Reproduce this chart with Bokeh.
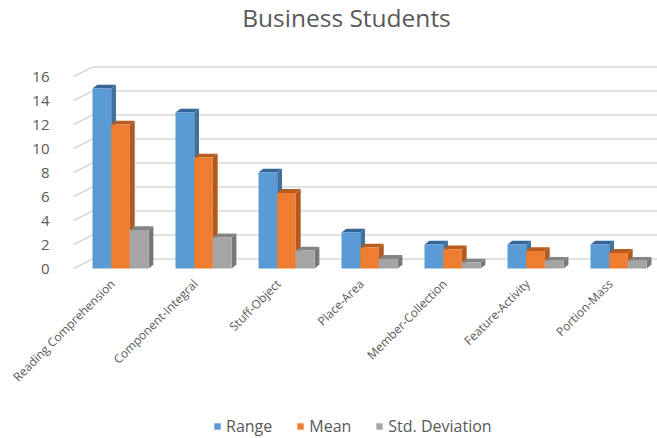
import math
from bokeh.plotting import figure
from bokeh.models import Range1d, FixedTicker, Legend, LegendItem, LinearAxis, Label
from bokeh.embed import file_html
from bokeh.resources import INLINE

# ---------------- data ----------------
categories = ["Reading Comprehension", "Component-Integral", "Stuff-Object",
              "Place-Area", "Member-Collection", "Feature-Activity", "Portion-Mass"]
series_names = ["Range", "Mean", "Std. Deviation"]
range_vals = [15, 13, 8, 3, 2, 2, 2]
mean_vals = [12, 9.25, 6.3, 1.75, 1.6, 1.45, 1.3]
std_vals = [3.2, 2.6, 1.5, 0.8, 0.5, 0.65, 0.65]
y_ticks = [0, 2, 4, 6, 8, 10, 12, 14, 16]
title_text = "Business Students"

# ---------------- styles ----------------
FONT = "Open Sans"
TXT = "#595959"
FRONT = ["#5B9BD5", "#ED7D31", "#A5A5A5"]
SIDE = ["#41719C", "#AE5A21", "#787878"]
TOP = ["#35659A", "#B85D1F", "#848484"]
GRID = "#D9D9D9"

W, H = 657, 438
PX_X, PX_Y = 83.0, 12.0            # pixels per data unit
X0 = -120.0 / PX_X                 # first category centre 120px from the left
X1 = X0 + W / PX_X
Y0 = -170.0 / PX_Y                 # value 0 lies 170px above the bottom
Y1 = Y0 + H / PX_Y
ux, uy = 1.0 / PX_X, 1.0 / PX_Y

BAR_W = 18.7 * ux
GROUP_L = -28.0 * ux
DEP_X, DEP_Y = 4.8 * ux, 3.8 * uy      # bar depth
WALL_X, WALL_Y = 19.0 * ux, 9.5 * uy   # back wall offset
WALL_LEFT = -47.0 * ux
YAXIS_AT = -58.0 * ux
LABEL_SHIFT = 8.0 * ux

p = figure(frame_width=W, frame_height=H,
           x_range=Range1d(X0, X1), y_range=Range1d(Y0, Y1),
           x_axis_type=None, y_axis_type=None,
           output_backend="svg", toolbar_location=None,
           min_border=0)
p.extra_x_ranges = {"labels": Range1d(X0 + LABEL_SHIFT, X1 + LABEL_SHIFT)}
p.outline_line_color = None
p.background_fill_color = "white"
p.border_fill_color = "white"

p.add_layout(Label(x=346, y=421, x_units="screen", y_units="screen",
                   text=title_text, text_align="center", text_baseline="alphabetic",
                   text_font=FONT, text_font_size="24.5px", text_color=TXT))

# ---------------- back wall gridlines ----------------
n = len(categories)
p.segment(x0=[WALL_LEFT + WALL_X] * len(y_ticks), y0=[t + WALL_Y for t in y_ticks],
          x1=[X1] * len(y_ticks), y1=[t + WALL_Y for t in y_ticks],
          line_color=GRID, line_width=1.5)
p.segment(x0=[WALL_LEFT] * len(y_ticks), y0=y_ticks,
          x1=[WALL_LEFT + WALL_X] * len(y_ticks), y1=[t + WALL_Y for t in y_ticks],
          line_color=GRID, line_width=1.5)

# ---------------- 3D bars ----------------
front_renderers = []
for s, vals in enumerate([range_vals, mean_vals, std_vals]):
    lefts = [i + GROUP_L + s * BAR_W for i in range(n)]
    rights = [l + BAR_W for l in lefts]
    side_xs = [[r, r + DEP_X, r + DEP_X, r] for r in rights]
    side_ys = [[0, DEP_Y, v + DEP_Y, v] for v in vals]
    top_xs = [[l, r, r + DEP_X, l + DEP_X] for l, r in zip(lefts, rights)]
    top_ys = [[v, v, v + DEP_Y, v + DEP_Y] for v in vals]
    p.patches(side_xs, side_ys, fill_color=SIDE[s], line_color=None)
    p.patches(top_xs, top_ys, fill_color=TOP[s], line_color=None)
    fr = p.quad(left=lefts, right=rights, bottom=[0] * n, top=vals,
                fill_color=FRONT[s], line_color=None)
    front_renderers.append(fr)

# ---------------- axes ----------------
yaxis = LinearAxis(ticker=FixedTicker(ticks=y_ticks), fixed_location=YAXIS_AT)
yaxis.axis_line_color = None
yaxis.major_tick_line_color = None
yaxis.minor_tick_line_color = None
yaxis.major_label_standoff = 7
yaxis.major_label_text_font = FONT
yaxis.major_label_text_font_size = "15px"
yaxis.major_label_text_color = TXT
p.add_layout(yaxis, "left")

xaxis = LinearAxis(ticker=FixedTicker(ticks=list(range(n))), fixed_location=0,
                   x_range_name="labels")
xaxis.major_label_overrides = {i: c for i, c in enumerate(categories)}
xaxis.major_label_orientation = math.pi / 4
xaxis.axis_line_color = None
xaxis.major_tick_line_color = None
xaxis.minor_tick_line_color = None
xaxis.major_label_standoff = 7
xaxis.major_label_text_font = FONT
xaxis.major_label_text_font_size = "12px"
xaxis.major_label_text_color = TXT
p.add_layout(xaxis, "below")

legend = Legend(items=[LegendItem(label=nm, renderers=[r]) for nm, r in zip(series_names, front_renderers)],
                orientation="horizontal", location=(213, 1),
                glyph_width=8, glyph_height=8, label_standoff=5, spacing=24,
                padding=0, margin=0, border_line_color=None, background_fill_alpha=0,
                label_text_font=FONT, label_text_font_size="16px", label_text_color=TXT,
                label_height=16)
p.add_layout(legend, "center")

open("out.html", "w").write(file_html(p, INLINE))
